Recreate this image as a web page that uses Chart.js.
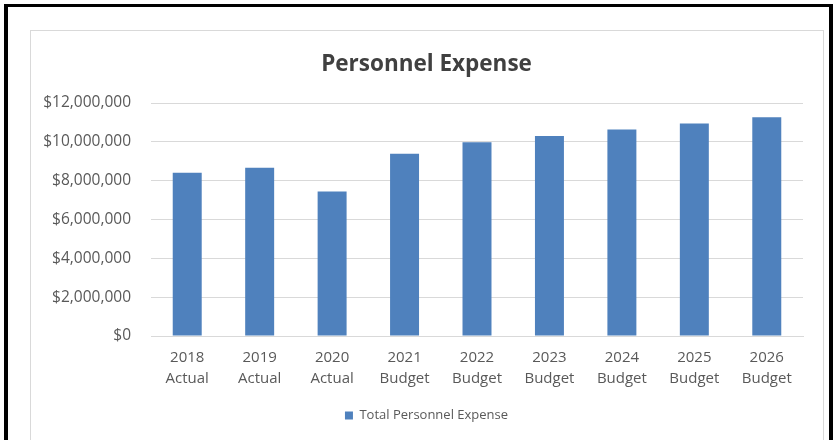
<!DOCTYPE html>
<html>
<head>
<meta charset="utf-8">
<script src="https://cdn.jsdelivr.net/npm/chart.js@4.4.0/dist/chart.umd.min.js"></script>
<style>
    html, body { margin: 0; padding: 0; background: #fff; overflow: hidden; width: 834px; height: 440px; }
    #outer { position: absolute; left: 4px; top: 4px; width: 829px; height: 520px; box-sizing: border-box;
             border: 4px solid #000; border-top-width: 3px; }
    #inner { position: absolute; left: 30px; top: 30px; width: 794px; height: 520px; box-sizing: border-box;
             border: 1px solid #d9d9d9; background: #fff; }
    #wrap { position: absolute; left: 31px; top: 31px; width: 791px; height: 409px; }
</style>
</head>
<body>
<div id="outer"></div>
<div id="inner"></div>
<div id="wrap"><canvas id="expenseChart" width="791" height="409"></canvas></div>
<script>
const years = ['2018', '2019', '2020', '2021', '2022', '2023', '2024', '2025', '2026'];
const kinds = ['Actual', 'Actual', 'Actual', 'Budget', 'Budget', 'Budget', 'Budget', 'Budget', 'Budget'];
const personnelExpense = [8410000, 8670000, 7440000, 9390000, 9980000, 10300000, 10630000, 10940000, 11270000];

const labels = years.map((y, i) => [y, kinds[i]]);
const FONT = "'Open Sans', 'Noto Sans', sans-serif";
const gridColor = '#d9d9d9';
const textColor = '#595959';

const ctx = document.getElementById('expenseChart').getContext('2d');
new Chart(ctx, {
    type: 'bar',
    data: {
        labels,
        datasets: [{
            label: 'Total Personnel Expense',
            data: personnelExpense,
            backgroundColor: '#4f81bd',
            borderWidth: 0,
            categoryPercentage: 1,
            barPercentage: 0.4
        }]
    },
    options: {
        responsive: false,
        animation: false,
        layout: { padding: { left: 0, right: 0, top: 0, bottom: 8 } },
        plugins: {
            title: {
                display: true,
                text: 'Personnel Expense',
                color: '#404040',
                font: { family: FONT, size: 22.5, weight: 'bold', lineHeight: 1.2 },
                padding: { top: 20.5, bottom: 24.5 }
            },
            legend: {
                position: 'bottom',
                labels: {
                    color: textColor,
                    boxWidth: 8, boxHeight: 8,
                    padding: 10,
                    font: { family: FONT, size: 13 }
                }
            },
            tooltip: { enabled: false }
        },
        scales: {
            x: {
                grid: { display: false, drawTicks: false },
                border: { display: true, color: gridColor, width: 1 },
                ticks: { color: textColor, padding: 11, maxRotation: 0, font: { family: FONT, size: 15, lineHeight: 1.4 } },
                afterFit: (scale) => { scale.height = 63; }
            },
            y: {
                min: 0, max: 12000000,
                grid: { color: gridColor, lineWidth: 1, drawTicks: false },
                border: { display: false },
                ticks: {
                    stepSize: 2000000,
                    color: textColor,
                    padding: 20,
                    font: { family: FONT, size: 15.5 },
                    callback: (v) => '$' + v.toLocaleString('en-US')
                },
                afterFit: (scale) => { scale.width = 120; }
            },
            // empty right-hand gutter so title and legend centre on the whole frame
            gutter: {
                position: 'right',
                grid: { display: false, drawTicks: false },
                border: { display: false },
                ticks: { display: false },
                afterFit: (scale) => { scale.width = 19; }
            }
        }
    }
});
</script>
</body>
</html>
